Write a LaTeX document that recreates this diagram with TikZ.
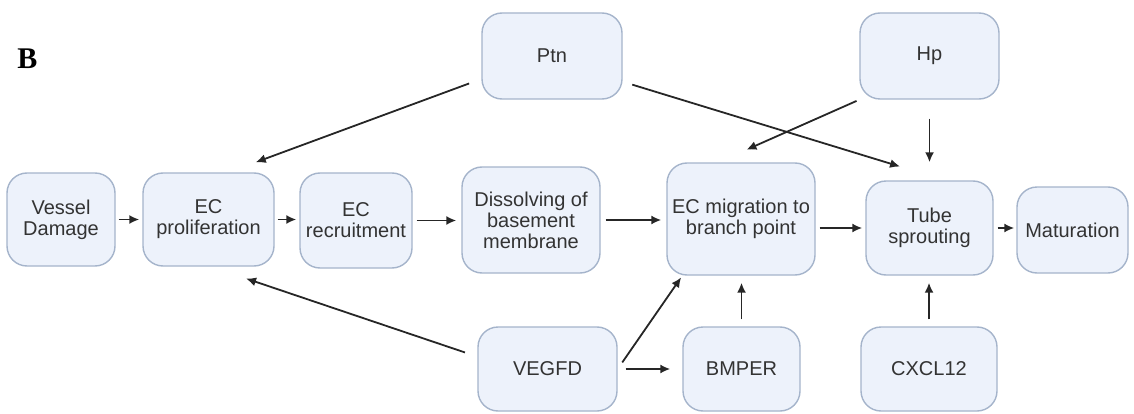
\documentclass[tikz,border=0pt]{standalone}
\usepackage{fontspec}
\setmainfont{Liberation Sans}
\newfontfamily\panelfont{Liberation Serif}
\usetikzlibrary{arrows.meta}

\definecolor{boxfill}{HTML}{EDF2FB}
\definecolor{boxline}{HTML}{A5B4CB}
\definecolor{boxtext}{HTML}{333333}
\definecolor{arrline}{HTML}{262626}

\tikzset{
  box/.style={draw=boxline, fill=boxfill, line width=1.4pt, rounded corners=20pt,
    align=center, inner sep=0pt, text=boxtext,
    font=\fontsize{20}{21}\selectfont},
  arr/.style={-{Latex[length=10pt,width=9pt]}, draw=arrline, line width=1.8pt}
}

\begin{document}
\begin{tikzpicture}[x=1pt,y=1pt]
 \useasboundingbox (0,0) rectangle (1134,413);

 \node[font=\panelfont\bfseries\fontsize{30}{30}\selectfont] (lbl) at (27.5,354.5) {B};

 % main row
 \node[box, minimum width=108pt, minimum height=93pt]  (vd)   at (61,193.5)    {Vessel\\Damage};
 \node[box, minimum width=131pt, minimum height=93pt]  (prol) at (208.5,193.5) {EC\\proliferation};
 \node[box, minimum width=112pt, minimum height=95pt]  (recr) at (356,192.5)   {EC\\recruitment};
 \node[box, minimum width=138pt, minimum height=106pt] (diss) at (531,193)     {Dissolving of\\basement\\membrane};
 \node[box, minimum width=148pt, minimum height=112pt] (mig)  at (741,194)     {EC migration to\\branch point};
 \node[box, minimum width=127pt, minimum height=94pt]  (tube) at (929.5,185)   {Tube\\sprouting};
 \node[box, minimum width=111pt, minimum height=86pt]  (mat)  at (1072.5,183)  {Maturation};

 % factors
 \node[box, minimum width=140pt, minimum height=86pt] (ptn)   at (552,357)   {Ptn};
 \node[box, minimum width=139pt, minimum height=86pt] (hp)    at (929.5,357) {Hp};
 \node[box, minimum width=139pt, minimum height=84pt] (vegfd) at (547.5,44)  {VEGFD};
 \node[box, minimum width=117pt, minimum height=84pt] (bmper) at (741.5,44)  {BMPER};
 \node[box, minimum width=136pt, minimum height=84pt] (cxcl)  at (929,44)    {CXCL12};

 \draw[arr, shorten <=3pt, shorten >=3pt] (vd) -- (prol);
 \draw[arr, shorten <=3pt, shorten >=3pt] (prol.east) -- (prol.east -| recr.west);
 \draw[arr, shorten <=4pt, shorten >=5pt] (recr.east) -- (recr.east -| diss.west);
 \draw[arr, shorten <=5pt, shorten >=5pt] (diss.east) -- (diss.east -| mig.west);
 \draw[arr, shorten <=4pt, shorten >=3pt] (tube.west -| mig.east) -- (tube.west);
 \draw[arr, shorten <=4pt, shorten >=2pt] (tube.east) -- (tube.east -| mat.west);

 \draw[arr, shorten <=13pt, shorten >=29pt] (ptn.198) -- (prol.67);
 \draw[arr, shorten <=10pt, shorten >=47pt] (ptn.-20) -- (tube.72);
 \draw[arr, shorten <=3pt, shorten >=31pt] (hp.south west) -- (mig.112);
 \draw[arr, shorten <=19pt, shorten >=18pt] (hp.south) -- (tube.north);

 \draw[arr, shorten <=13pt, shorten >=37pt] (vegfd.170) -- (prol.-87);
 \draw[arr, shorten <=8pt, shorten >=2pt] (vegfd.east) -- (mig.224);
 \draw[arr, shorten <=8pt, shorten >=12pt] (vegfd.east) -- (bmper.west);
 \draw[arr, shorten <=7pt, shorten >=7pt] (bmper.north) -- (bmper.north |- mig.south);
 \draw[arr, shorten <=7pt, shorten >=7pt] (cxcl.north) -- (cxcl.north |- tube.south);
\end{tikzpicture}
\end{document}
